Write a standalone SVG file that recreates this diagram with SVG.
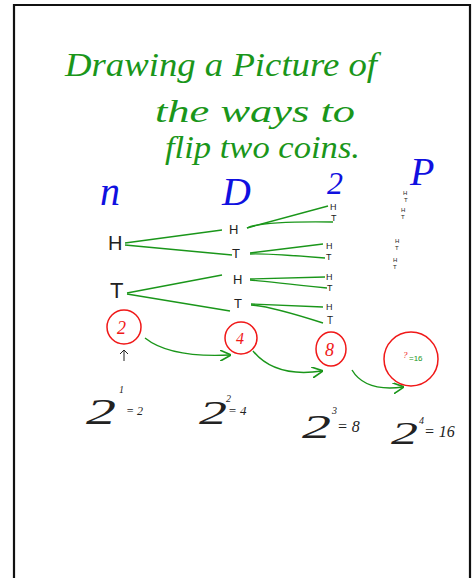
<svg xmlns="http://www.w3.org/2000/svg" width="473" height="578" viewBox="0 0 473 578">
<style>
.g{fill:#1a961a;font-family:"Liberation Serif",serif;font-style:italic}
.b{fill:#1010e0;font-family:"Liberation Serif",serif;font-style:italic}
.k{fill:#222;font-family:"Liberation Sans",sans-serif}
.hw{fill:#222;font-family:"Liberation Serif",serif;font-style:italic}
.ln{stroke:#1a961a;stroke-width:1.4;fill:none}
.rc{stroke:#f01818;stroke-width:1.5;fill:none}
.rt{fill:#f01818;font-family:"Liberation Serif",serif;font-style:italic}
</style>
<defs>
<marker id="ah" viewBox="0 0 10 10" refX="9" refY="5" markerWidth="8" markerHeight="8" orient="auto"><path d="M0,0 L10,5 L0,10" fill="none" stroke="#1a961a" stroke-width="1.5"/></marker>
</defs>
<rect x="0" y="0" width="473" height="578" fill="#fff"/>
<path d="M14,578 V5 H470 V578" fill="none" stroke="#111" stroke-width="2.2"/>
<g id="title">
<text class="g" x="65" y="76" font-size="34" textLength="312" lengthAdjust="spacingAndGlyphs">Drawing a Picture of</text>
<text class="g" x="155" y="122" font-size="32" textLength="200" lengthAdjust="spacingAndGlyphs">the ways to</text>
<text class="g" x="165" y="158" font-size="32" textLength="195" lengthAdjust="spacingAndGlyphs">flip two coins.</text>
</g>
<g id="headers">
<text class="b" x="100" y="205" font-size="40">n</text>
<text class="b" x="222" y="205" font-size="40">D</text>
<text class="b" x="327" y="194" font-size="32">2</text>
<text class="b" x="410" y="185" font-size="40">P</text>
</g>
<g id="col1">
<text class="k" x="108" y="250" font-size="20">H</text>
<text class="k" x="110" y="298" font-size="22">T</text>
</g>
<g id="col2">
<text class="k" x="229" y="234" font-size="13">H</text>
<text class="k" x="232" y="258" font-size="13">T</text>
<text class="k" x="233" y="284" font-size="13">H</text>
<text class="k" x="234" y="308" font-size="13">T</text>
</g>
<g id="col3">
<text class="k" x="330" y="210" font-size="9">H</text>
<text class="k" x="331" y="221" font-size="9">T</text>
<text class="k" x="326" y="249" font-size="9">H</text>
<text class="k" x="326" y="260" font-size="9">T</text>
<text class="k" x="326" y="280" font-size="9">H</text>
<text class="k" x="327" y="291" font-size="9">T</text>
<text class="k" x="326" y="310" font-size="9">H</text>
<text class="k" x="327" y="324" font-size="10">T</text>
</g>
<g id="col4">
<text class="k" x="403" y="195" font-size="6">H</text>
<text class="k" x="404" y="202" font-size="6">T</text>
<text class="k" x="401" y="212" font-size="6">H</text>
<text class="k" x="401" y="219" font-size="6">T</text>
<text class="k" x="395" y="243" font-size="6">H</text>
<text class="k" x="395" y="250" font-size="6">T</text>
<text class="k" x="393" y="262" font-size="6">H</text>
<text class="k" x="393" y="269" font-size="6">T</text>
</g>
<g id="connectors">
<path class="ln" d="M125,243 L222,230"/>
<path class="ln" d="M125,245 L232,255"/>
<path class="ln" d="M127,293 L222,275"/>
<path class="ln" d="M127,294 L230,311"/>
<path class="ln" d="M247,228 L328,206"/>
<path class="ln" d="M247,228 Q260,221 333,222"/>
<path class="ln" d="M250,253 L323,244"/>
<path class="ln" d="M250,254 Q262,253 325,258"/>
<path class="ln" d="M250,279 L325,277"/>
<path class="ln" d="M250,280 Q262,281 327,288"/>
<path class="ln" d="M251,304 L323,307"/>
<path class="ln" d="M251,305 Q270,306 323,323"/>
<path class="ln" d="M145,338 Q170,358 230,355" marker-end="url(#ah)"/>
<path class="ln" d="M253,351 Q275,378 322,371" marker-end="url(#ah)"/>
<path class="ln" d="M352,370 Q365,392 403,387" marker-end="url(#ah)"/>
<path d="M124,361 V350 M120,354 L124,350 L128,354" fill="none" stroke="#222" stroke-width="1"/>
</g>
<g id="n2">
<circle class="rc" cx="124" cy="327" r="17"/>
<text class="rt" x="117" y="334" font-size="18">2</text>
</g>
<g id="n4">
<circle class="rc" cx="241" cy="338" r="16"/>
<text class="rt" x="236" y="344" font-size="16">4</text>
</g>
<g id="n8">
<ellipse class="rc" cx="331" cy="349" rx="15" ry="17"/>
<text class="rt" x="325" y="356" font-size="18">8</text>
</g>
<g id="n16">
<circle class="rc" cx="411" cy="359" r="27"/>
<text class="rt" x="403" y="358" font-size="9">?</text>
<text fill="#1a961a" font-family="Liberation Sans,sans-serif" x="409" y="361" font-size="8">=16</text>
</g>
<g id="f1">
<text class="hw" x="86" y="424" font-size="36" textLength="30" lengthAdjust="spacingAndGlyphs">2</text>
<text class="hw" x="119" y="393" font-size="10">1</text>
<text class="hw" x="126" y="415" font-size="12">= 2</text>
</g>
<g id="f2">
<text class="hw" x="199" y="424" font-size="34" textLength="28" lengthAdjust="spacingAndGlyphs">2</text>
<text class="hw" x="226" y="402" font-size="10">2</text>
<text class="hw" x="228" y="415" font-size="13">= 4</text>
</g>
<g id="f3">
<text class="hw" x="302" y="438" font-size="34" textLength="29" lengthAdjust="spacingAndGlyphs">2</text>
<text class="hw" x="332" y="414" font-size="10">3</text>
<text class="hw" x="337" y="432" font-size="16">= 8</text>
</g>
<g id="f4">
<text class="hw" x="391" y="444" font-size="32" textLength="27" lengthAdjust="spacingAndGlyphs">2</text>
<text class="hw" x="419" y="424" font-size="10">4</text>
<text class="hw" x="424" y="437" font-size="16">= 16</text>
</g>
</svg>
